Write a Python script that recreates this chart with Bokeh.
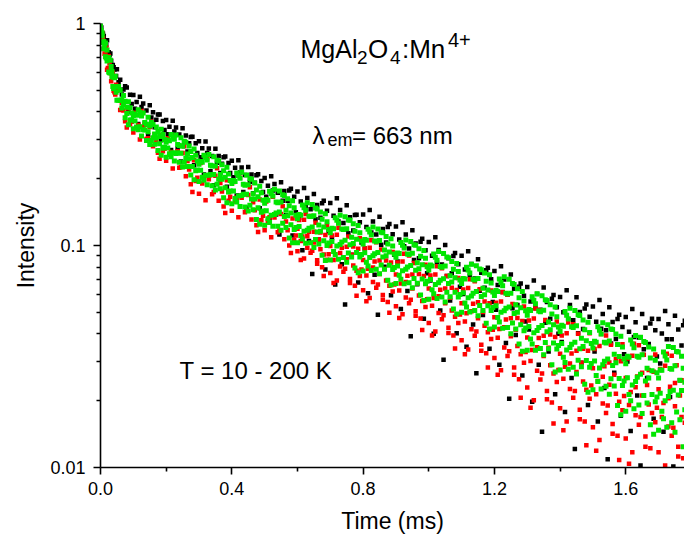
from bokeh.plotting import figure
from bokeh.models import Range1d, FixedTicker, Label, CustomJSTickFormatter
from bokeh.embed import file_html
from bokeh.resources import INLINE

# ---------------- data ----------------
# sampling times (ms): grid A and grid B (half-step shifted), plus early times
t_a = [0.00, 0.01, 0.02, 0.03, 0.04, 0.05, 0.06, 0.07, 0.08, 0.09,
       0.10, 0.11, 0.12, 0.13, 0.14, 0.15, 0.16, 0.17, 0.18, 0.19,
       0.20, 0.21, 0.22, 0.23, 0.24, 0.25, 0.26, 0.27, 0.28, 0.29,
       0.30, 0.31, 0.32, 0.33, 0.34, 0.35, 0.36, 0.37, 0.38, 0.39,
       0.40, 0.41, 0.42, 0.43, 0.44, 0.45, 0.46, 0.47, 0.48, 0.49,
       0.50, 0.51, 0.52, 0.53, 0.54, 0.55, 0.56, 0.57, 0.58, 0.59,
       0.60, 0.61, 0.62, 0.63, 0.64, 0.65, 0.66, 0.67, 0.68, 0.69,
       0.70, 0.71, 0.72, 0.73, 0.74, 0.75, 0.76, 0.77, 0.78, 0.79,
       0.80, 0.81, 0.82, 0.83, 0.84, 0.85, 0.86, 0.87, 0.88, 0.89,
       0.90, 0.91, 0.92, 0.93, 0.94, 0.95, 0.96, 0.97, 0.98, 0.99,
       1.00, 1.01, 1.02, 1.03, 1.04, 1.05, 1.06, 1.07, 1.08, 1.09,
       1.10, 1.11, 1.12, 1.13, 1.14, 1.15, 1.16, 1.17, 1.18, 1.19,
       1.20, 1.21, 1.22, 1.23, 1.24, 1.25, 1.26, 1.27, 1.28, 1.29,
       1.30, 1.31, 1.32, 1.33, 1.34, 1.35, 1.36, 1.37, 1.38, 1.39,
       1.40, 1.41, 1.42, 1.43, 1.44, 1.45, 1.46, 1.47, 1.48, 1.49,
       1.50, 1.51, 1.52, 1.53, 1.54, 1.55, 1.56, 1.57, 1.58, 1.59,
       1.60, 1.61, 1.62, 1.63, 1.64, 1.65, 1.66, 1.67, 1.68, 1.69,
       1.70, 1.71, 1.72, 1.73, 1.74, 1.75, 1.76, 1.77, 1.78]
t_b = [0.005, 0.015, 0.025, 0.035, 0.045, 0.055, 0.065, 0.075, 0.085, 0.095,
       0.105, 0.115, 0.125, 0.135, 0.145, 0.155, 0.165, 0.175, 0.185, 0.195,
       0.205, 0.215, 0.225, 0.235, 0.245, 0.255, 0.265, 0.275, 0.285, 0.295,
       0.305, 0.315, 0.325, 0.335, 0.345, 0.355, 0.365, 0.375, 0.385, 0.395,
       0.405, 0.415, 0.425, 0.435, 0.445, 0.455, 0.465, 0.475, 0.485, 0.495,
       0.505, 0.515, 0.525, 0.535, 0.545, 0.555, 0.565, 0.575, 0.585, 0.595,
       0.605, 0.615, 0.625, 0.635, 0.645, 0.655, 0.665, 0.675, 0.685, 0.695,
       0.705, 0.715, 0.725, 0.735, 0.745, 0.755, 0.765, 0.775, 0.785, 0.795,
       0.805, 0.815, 0.825, 0.835, 0.845, 0.855, 0.865, 0.875, 0.885, 0.895,
       0.905, 0.915, 0.925, 0.935, 0.945, 0.955, 0.965, 0.975, 0.985, 0.995,
       1.005, 1.015, 1.025, 1.035, 1.045, 1.055, 1.065, 1.075, 1.085, 1.095,
       1.105, 1.115, 1.125, 1.135, 1.145, 1.155, 1.165, 1.175, 1.185, 1.195,
       1.205, 1.215, 1.225, 1.235, 1.245, 1.255, 1.265, 1.275, 1.285, 1.295,
       1.305, 1.315, 1.325, 1.335, 1.345, 1.355, 1.365, 1.375, 1.385, 1.395,
       1.405, 1.415, 1.425, 1.435, 1.445, 1.455, 1.465, 1.475, 1.485, 1.495,
       1.505, 1.515, 1.525, 1.535, 1.545, 1.555, 1.565, 1.575, 1.585, 1.595,
       1.605, 1.615, 1.625, 1.635, 1.645, 1.655, 1.665, 1.675, 1.685, 1.695,
       1.705, 1.715, 1.725, 1.735, 1.745, 1.755, 1.765, 1.775]
t_early = [0.0025, 0.0075, 0.0125, 0.0175, 0.0225, 0.0275, 0.0325, 0.0375, 0.0425, 0.0475]
t_late = t_a[60:]   # 0.60 ... 1.78 ms, used by the third red reading

# black series
black_a = [0.995, 0.878, 0.840, 0.732, 0.636, 0.622, 0.558, 0.504, 0.515, 0.477,
           0.476, 0.443, 0.468, 0.436, 0.4055, 0.4285, 0.398, 0.3684, 0.3895, 0.364,
           0.368, 0.343, 0.365, 0.340, 0.316, 0.337, 0.313, 0.289, 0.309, 0.289,
           0.2945, 0.274, 0.294, 0.2734, 0.2533, 0.2726, 0.2528, 0.2334, 0.2517, 0.2354,
           0.241, 0.2239, 0.242, 0.2247, 0.2076, 0.2256, 0.2086, 0.1917, 0.2094, 0.1952,
           0.2015, 0.1859, 0.205, 0.1891, 0.1727, 0.1929, 0.1762, 0.1591, 0.1803, 0.1658,
           0.175, 0.1578, 0.1814, 0.1638, 0.1458, 0.1706, 0.1522, 0.1332, 0.1592, 0.1434,
           0.1553, 0.1363, 0.1632, 0.1445, 0.1262, 0.152, 0.1341, 0.1167, 0.1376, 0.1273,
           0.1379, 0.1213, 0.1446, 0.1282, 0.1121, 0.1347, 0.1188, 0.1032, 0.1251, 0.1125,
           0.1219, 0.1065, 0.1272, 0.112, 0.0969, 0.1171, 0.1022, 0.0876, 0.1073, 0.0953,
           0.1036, 0.0898, 0.109, 0.0954, 0.0822, 0.1006, 0.0876, 0.075, 0.0926, 0.0824,
           0.0898, 0.0779, 0.0942, 0.0825, 0.071, 0.0867, 0.0754, 0.0645, 0.0794, 0.0705,
           0.0768, 0.0664, 0.0806, 0.0703, 0.0601, 0.074, 0.0639, 0.0539, 0.0675, 0.0594,
           0.065, 0.056, 0.0696, 0.0604, 0.0513, 0.0647, 0.0557, 0.0468, 0.0599, 0.0527,
           0.0586, 0.05, 0.0628, 0.054, 0.046, 0.0584, 0.0502, 0.0421, 0.0542, 0.0477,
           0.0531, 0.0453, 0.0568, 0.0491, 0.0415, 0.0527, 0.0452, 0.0379, 0.0487, 0.0429,
           0.0476, 0.0409, 0.0518, 0.0451, 0.0385, 0.0492, 0.0426, 0.036, 0.0468, 0.0415,
           0.0466, 0.0401, 0.0507, 0.0442, 0.0378, 0.0482, 0.0418, 0.0354, 0.0458]
black_b = [0.905, 0.727, 0.743, 0.596, 0.494, 0.544, 0.479, 0.522, 0.400, 0.434,
           0.413, 0.353, 0.421, 0.356, 0.314, 0.377, 0.341, 0.389, 0.298, 0.331,
           0.317, 0.269, 0.326, 0.274, 0.239, 0.294, 0.265, 0.308, 0.230, 0.261,
           0.250, 0.209, 0.261, 0.216, 0.187, 0.236, 0.212, 0.250, 0.184, 0.212,
           0.203, 0.168, 0.213, 0.174, 0.148, 0.193, 0.172, 0.207, 0.147, 0.174,
           0.166, 0.132, 0.177, 0.138, 0.112, 0.159, 0.137, 0.177, 0.111, 0.141,
           0.1335, 0.0953, 0.1495, 0.1048, 0.0744, 0.1314, 0.1064, 0.155, 0.078, 0.1158,
           0.108, 0.0668, 0.1282, 0.0823, 0.0542, 0.1135, 0.0908, 0.1372, 0.0682, 0.1032,
           0.0969, 0.061, 0.1144, 0.0738, 0.0488, 0.1007, 0.0803, 0.121, 0.0597, 0.0908,
           0.0847, 0.0517, 0.0993, 0.0623, 0.039, 0.086, 0.0669, 0.1041, 0.0468, 0.075,
           0.0695, 0.040, 0.0838, 0.051, 0.0306, 0.0729, 0.0565, 0.0897, 0.0402, 0.0652,
           0.0604, 0.035, 0.073, 0.0441, 0.0266, 0.0625, 0.0486, 0.0773, 0.0343, 0.0557,
           0.0513, 0.029, 0.0617, 0.0364, 0.0204, 0.0522, 0.0395, 0.0652, 0.026, 0.0455,
           0.0418, 0.0198, 0.0522, 0.029, 0.0145, 0.0449, 0.0333, 0.0576, 0.0214, 0.040,
           0.0368, 0.0178, 0.0467, 0.0253, 0.0121, 0.0402, 0.0296, 0.052, 0.0191, 0.0362,
           0.0333, 0.0161, 0.0422, 0.0228, 0.0109, 0.0362, 0.0267, 0.0467, 0.0171, 0.0324,
           0.030, 0.0146, 0.0387, 0.0211, 0.0102, 0.0341, 0.0253, 0.0445, 0.0166, 0.0316,
           0.0294, 0.0145, 0.0378, 0.0208, 0.0101, 0.0333, 0.0247, 0.0437]
black_early = [0.96, 0.90, 0.84, 0.80, 0.74, 0.72, 0.68, 0.65, 0.62, 0.58]

# red series
red_a = [0.937, 0.768, 0.619, 0.598, 0.498, 0.498, 0.408, 0.406, 0.340, 0.353,
         0.323, 0.340, 0.300, 0.342, 0.302, 0.342, 0.280, 0.295, 0.246, 0.266,
         0.241, 0.256, 0.222, 0.259, 0.224, 0.261, 0.205, 0.220, 0.174, 0.195,
         0.171, 0.190, 0.160, 0.199, 0.170, 0.206, 0.159, 0.175, 0.140, 0.159,
         0.1435, 0.158, 0.134, 0.164, 0.141, 0.169, 0.131, 0.144, 0.115, 0.130,
         0.117, 0.1286, 0.109, 0.1338, 0.1146, 0.1386, 0.1066, 0.1172, 0.0924, 0.1059,
         0.0942, 0.1047, 0.0873, 0.1101, 0.0927, 0.1154, 0.0858, 0.0962, 0.0728, 0.0862,
         0.0751, 0.0860, 0.0696, 0.0924, 0.0762, 0.0987, 0.0707, 0.0812, 0.0594, 0.0728,
         0.0628, 0.0733, 0.0580, 0.0796, 0.0645, 0.0855, 0.0598, 0.0695, 0.0498, 0.0621,
         0.0532, 0.0627, 0.0490, 0.0685, 0.0549, 0.0740, 0.0506, 0.0596, 0.0416, 0.0529,
         0.0448, 0.0536, 0.0410, 0.0590, 0.0465, 0.0641, 0.0426, 0.0509, 0.0344, 0.0448,
         0.0374, 0.0455, 0.0340, 0.0506, 0.0392, 0.0555, 0.0357, 0.0435, 0.0282, 0.0379,
         0.0311, 0.0384, 0.0274, 0.0428, 0.0318, 0.0470, 0.0282, 0.0353, 0.0206, 0.0296,
         0.0229, 0.0302, 0.0201, 0.0348, 0.0249, 0.0392, 0.0221, 0.0289, 0.0158, 0.0243,
         0.0185, 0.0251, 0.0161, 0.0294, 0.0206, 0.0336, 0.0182, 0.0244, 0.0126, 0.0204,
         0.0152, 0.0214, 0.0133, 0.0256, 0.0176, 0.0297, 0.0157, 0.0215, 0.0108, 0.0181,
         0.0135, 0.0191, 0.0117, 0.0230, 0.0156, 0.0267, 0.0138, 0.0192, 0.0093, 0.0160,
         0.0117, 0.0169, 0.0102, 0.0205, 0.0139, 0.0240, 0.0124, 0.0169, 0.0085]
red_b = [0.906, 0.731, 0.714, 0.580, 0.479, 0.505, 0.438, 0.363, 0.415, 0.361,
         0.396, 0.349, 0.403, 0.350, 0.304, 0.361, 0.317, 0.262, 0.315, 0.273,
         0.304, 0.264, 0.312, 0.266, 0.226, 0.280, 0.240, 0.189, 0.242, 0.202,
         0.235, 0.199, 0.247, 0.207, 0.174, 0.223, 0.191, 0.150, 0.197, 0.166,
         0.193, 0.164, 0.202, 0.170, 0.1435, 0.183, 0.1565, 0.1234, 0.161, 0.136,
         0.1577, 0.1342, 0.1657, 0.1393, 0.1167, 0.1504, 0.1281, 0.0999, 0.1324, 0.1109,
         0.1304, 0.1099, 0.1388, 0.1152, 0.0948, 0.1267, 0.1063, 0.0798, 0.1116, 0.0913,
         0.1110, 0.0914, 0.1203, 0.0978, 0.0785, 0.1099, 0.0908, 0.0659, 0.0968, 0.0780,
         0.0970, 0.0785, 0.1056, 0.0846, 0.0668, 0.0959, 0.0783, 0.0557, 0.0838, 0.0668,
         0.0839, 0.0674, 0.0919, 0.0730, 0.0570, 0.0834, 0.0675, 0.0469, 0.0728, 0.0573,
         0.0732, 0.0580, 0.0806, 0.0632, 0.0485, 0.0728, 0.0582, 0.0393, 0.0631, 0.0489,
         0.0634, 0.0495, 0.0705, 0.0546, 0.0410, 0.0636, 0.0502, 0.0327, 0.0549, 0.0417,
         0.0552, 0.0421, 0.0615, 0.0464, 0.0334, 0.0545, 0.0417, 0.0250, 0.0457, 0.0331,
         0.0459, 0.0338, 0.0520, 0.0383, 0.0265, 0.0462, 0.0346, 0.0196, 0.0387, 0.0275,
         0.0393, 0.0284, 0.0450, 0.0326, 0.0221, 0.0400, 0.0296, 0.0161, 0.0336, 0.0234,
         0.0342, 0.0245, 0.0399, 0.0286, 0.0190, 0.0357, 0.0262, 0.0139, 0.0301, 0.0210,
         0.0310, 0.0219, 0.0361, 0.0257, 0.0169, 0.0322, 0.0235, 0.0122, 0.0270, 0.0186,
         0.0278, 0.0195, 0.0325, 0.0231, 0.0151, 0.0289, 0.0211, 0.0110]
red_c = [0.119, 0.0861, 0.1305, 0.0977, 0.1358, 0.1031, 0.0827, 0.1145, 0.0912, 0.1228,
         0.0995, 0.0678, 0.1119, 0.0804, 0.118, 0.0868, 0.0677, 0.0989, 0.077, 0.1078,
         0.086, 0.0561, 0.0978, 0.0684, 0.1034, 0.0745, 0.057, 0.0857, 0.0658, 0.0936,
         0.074, 0.0472, 0.0848, 0.0583, 0.0902, 0.064, 0.0482, 0.0744, 0.0562, 0.0819,
         0.064, 0.0393, 0.074, 0.0496, 0.079, 0.0549, 0.0404, 0.0645, 0.0478, 0.0714,
         0.055, 0.0324, 0.0644, 0.042, 0.0691, 0.047, 0.0336, 0.0560, 0.0407, 0.0627,
         0.0475, 0.0262, 0.0559, 0.0347, 0.060, 0.039, 0.0262, 0.0471, 0.0324, 0.0531,
         0.0385, 0.0186, 0.0469, 0.0273, 0.0511, 0.0318, 0.0203, 0.0397, 0.0265, 0.0455,
         0.0325, 0.0147, 0.0402, 0.0226, 0.0442, 0.0269, 0.0165, 0.0343, 0.0224, 0.0402,
         0.028, 0.0119, 0.0353, 0.0194, 0.0393, 0.0236, 0.0142, 0.0307, 0.0198, 0.0359,
         0.0253, 0.0104, 0.0319, 0.0172, 0.0355, 0.0211, 0.0124, 0.0275, 0.0176, 0.0323,
         0.0225, 0.0089, 0.0287, 0.0153, 0.0319, 0.0189, 0.0112, 0.0247, 0.0159]
red_early = [0.90, 0.86, 0.73, 0.78, 0.63, 0.66, 0.55, 0.60, 0.49, 0.53]

# green series
green_a = [0.975, 0.77, 0.76, 0.60, 0.575, 0.451, 0.50, 0.43, 0.393, 0.417,
           0.385, 0.342, 0.398, 0.332, 0.352, 0.285, 0.351, 0.305, 0.287, 0.316,
           0.292, 0.259, 0.308, 0.260, 0.282, 0.226, 0.292, 0.246, 0.227, 0.255,
           0.232, 0.203, 0.249, 0.207, 0.228, 0.178, 0.240, 0.199, 0.182, 0.210,
           0.190, 0.163, 0.206, 0.168, 0.187, 0.143, 0.199, 0.162, 0.148, 0.173,
           0.155, 0.132, 0.171, 0.138, 0.156, 0.117, 0.168, 0.136, 0.124, 0.148,
           0.132, 0.111, 0.148, 0.117, 0.135, 0.098, 0.146, 0.116, 0.105, 0.128,
           0.114, 0.094, 0.130, 0.101, 0.118, 0.084, 0.130, 0.102, 0.093, 0.114,
           0.1015, 0.084, 0.115, 0.090, 0.104, 0.0746, 0.114, 0.090, 0.0814, 0.0994,
           0.0885, 0.0734, 0.1003, 0.0782, 0.0910, 0.0646, 0.1002, 0.0785, 0.0706, 0.0876,
           0.0775, 0.0632, 0.0886, 0.0680, 0.0799, 0.0557, 0.0881, 0.0685, 0.0615, 0.0764,
           0.0675, 0.0551, 0.0775, 0.0593, 0.0700, 0.0483, 0.0778, 0.0600, 0.0536, 0.0677,
           0.0595, 0.0474, 0.0682, 0.0508, 0.0604, 0.0400, 0.0667, 0.0501, 0.0439, 0.0563,
           0.0485, 0.0379, 0.0567, 0.0414, 0.0503, 0.0322, 0.0565, 0.0417, 0.0364, 0.0478,
           0.0410, 0.0314, 0.0485, 0.0347, 0.0427, 0.0264, 0.0484, 0.0351, 0.0303, 0.0406,
           0.0345, 0.0260, 0.0415, 0.0290, 0.0364, 0.0214, 0.0418, 0.0296, 0.0252, 0.0349,
           0.0293, 0.0213, 0.0360, 0.0244, 0.0314, 0.0175, 0.0366, 0.0253, 0.0213, 0.0304,
           0.0253, 0.0179, 0.0318, 0.0209, 0.0277, 0.0144, 0.0331, 0.0222, 0.0182]
green_b = [0.906, 0.708, 0.703, 0.574, 0.579, 0.451, 0.453, 0.376, 0.444, 0.368,
           0.391, 0.332, 0.383, 0.331, 0.378, 0.297, 0.318, 0.268, 0.334, 0.277,
           0.299, 0.251, 0.301, 0.262, 0.306, 0.237, 0.258, 0.208, 0.272, 0.219,
           0.239, 0.197, 0.243, 0.209, 0.251, 0.189, 0.209, 0.164, 0.225, 0.176,
           0.196, 0.157, 0.201, 0.170, 0.208, 0.152, 0.171, 0.131, 0.185, 0.143,
           0.161, 0.127, 0.167, 0.140, 0.176, 0.126, 0.144, 0.108, 0.159, 0.1205,
           0.138, 0.107, 0.144, 0.1196, 0.153, 0.1064, 0.1237, 0.0904, 0.139, 0.1025,
           0.1196, 0.0908, 0.1260, 0.1037, 0.1349, 0.0926, 0.1088, 0.0791, 0.1230, 0.0911,
           0.1063, 0.0808, 0.1115, 0.0917, 0.1187, 0.0817, 0.0955, 0.0697, 0.1073, 0.0797,
           0.0926, 0.0705, 0.0974, 0.0800, 0.1043, 0.0710, 0.0836, 0.0598, 0.0950, 0.0690,
           0.0816, 0.0606, 0.0859, 0.0698, 0.0921, 0.0616, 0.0731, 0.0518, 0.0830, 0.0602,
           0.0710, 0.0528, 0.0752, 0.0609, 0.0811, 0.0537, 0.0642, 0.0447, 0.0738, 0.0525,
           0.0627, 0.0452, 0.0658, 0.0521, 0.0704, 0.0448, 0.0541, 0.0360, 0.0620, 0.0425,
           0.0515, 0.0360, 0.0547, 0.0427, 0.0594, 0.0366, 0.0452, 0.0290, 0.0528, 0.0354,
           0.0437, 0.0297, 0.0467, 0.0359, 0.0510, 0.0304, 0.0382, 0.0237, 0.0451, 0.0294,
           0.0370, 0.0244, 0.0399, 0.0301, 0.0440, 0.0251, 0.0324, 0.0190, 0.0390, 0.0245,
           0.0317, 0.0200, 0.0346, 0.0255, 0.0386, 0.0211, 0.0280, 0.0156, 0.0342, 0.0208,
           0.0275, 0.0166, 0.0305, 0.0220, 0.0347, 0.0178, 0.0247, 0.0124]
green_c = [0.953, 0.83, 0.678, 0.683, 0.51, 0.517, 0.45, 0.474, 0.42, 0.368,
           0.336, 0.386, 0.343, 0.395, 0.297, 0.345, 0.306, 0.342, 0.31, 0.274,
           0.25, 0.296, 0.262, 0.315, 0.237, 0.28, 0.248, 0.281, 0.249, 0.217,
           0.194, 0.237, 0.207, 0.257, 0.186, 0.228, 0.199, 0.231, 0.203, 0.174,
           0.154, 0.194, 0.167, 0.214, 0.149, 0.188, 0.162, 0.191, 0.166, 0.141,
           0.1235, 0.16, 0.137, 0.179, 0.122, 0.157, 0.135, 0.1625, 0.140, 0.118,
           0.103, 0.137, 0.116, 0.156, 0.103, 0.136, 0.115, 0.1415, 0.121, 0.100,
           0.086, 0.119, 0.0994, 0.137, 0.0883, 0.119, 0.1007, 0.1252, 0.1068, 0.0888,
           0.0768, 0.1056, 0.0882, 0.1213, 0.0782, 0.1052, 0.0887, 0.1097, 0.0936, 0.0779,
           0.0674, 0.0921, 0.077, 0.106, 0.0679, 0.0922, 0.0773, 0.0968, 0.082, 0.0673,
           0.0573, 0.0809, 0.0667, 0.0939, 0.0586, 0.0809, 0.0674, 0.0848, 0.0715, 0.0586,
           0.050, 0.0706, 0.0582, 0.0824, 0.0509, 0.0711, 0.0589, 0.0751, 0.063, 0.051,
           0.0429, 0.0621, 0.0501, 0.0723, 0.0427, 0.061, 0.0494, 0.0638, 0.0524, 0.0413,
           0.0337, 0.051, 0.0405, 0.0607, 0.0344, 0.0511, 0.0409, 0.0541, 0.0440, 0.0342,
           0.0275, 0.0433, 0.0338, 0.0521, 0.0283, 0.0435, 0.0343, 0.0462, 0.0372, 0.0283,
           0.0224, 0.0367, 0.0281, 0.0449, 0.0232, 0.0371, 0.0288, 0.0399, 0.0316, 0.0234,
           0.0179, 0.0314, 0.0235, 0.0393, 0.0191, 0.0322, 0.0245, 0.0349, 0.0273, 0.0198,
           0.0147, 0.0274, 0.0200, 0.0351, 0.0159, 0.0287, 0.0212, 0.0317, 0.0242]
green_d = [0.879, 0.817, 0.605, 0.608, 0.519, 0.52, 0.416, 0.447, 0.35, 0.3955,
           0.3635, 0.4085, 0.311, 0.358, 0.325, 0.3585, 0.286, 0.326, 0.255, 0.300,
           0.275, 0.316, 0.240, 0.285, 0.2605, 0.295, 0.227, 0.265, 0.198, 0.240,
           0.218, 0.255, 0.188, 0.230, 0.209, 0.242, 0.180, 0.217, 0.156, 0.196,
           0.176, 0.212, 0.150, 0.189, 0.170, 0.200, 0.145, 0.178, 0.1245, 0.160,
           0.1435, 0.1757, 0.122, 0.157, 0.1416, 0.1693, 0.1204, 0.1512, 0.103, 0.1368,
           0.1218, 0.1523, 0.1024, 0.1356, 0.1211, 0.1477, 0.1016, 0.1312, 0.0856, 0.118,
           0.1042, 0.1335, 0.0868, 0.1186, 0.1055, 0.1304, 0.0887, 0.116, 0.0754, 0.1049,
           0.0927, 0.1183, 0.0771, 0.1048, 0.0931, 0.1146, 0.0781, 0.1015, 0.0664, 0.0915,
           0.0809, 0.1032, 0.0672, 0.0916, 0.0812, 0.1008, 0.0676, 0.0894, 0.0565, 0.0803,
           0.0703, 0.0915, 0.0577, 0.0805, 0.0709, 0.0887, 0.0587, 0.0782, 0.0491, 0.0700,
           0.0613, 0.0799, 0.0502, 0.0705, 0.0620, 0.0783, 0.0510, 0.0691, 0.0421, 0.0618,
           0.0535, 0.0706, 0.0424, 0.0610, 0.0528, 0.0674, 0.0421, 0.0581, 0.0334, 0.0508,
           0.0432, 0.0588, 0.0337, 0.0507, 0.0436, 0.0570, 0.0343, 0.0491, 0.0269, 0.0429,
           0.0362, 0.0504, 0.0277, 0.0431, 0.0367, 0.0488, 0.0284, 0.0417, 0.0218, 0.0362,
           0.0302, 0.0431, 0.0226, 0.0367, 0.0308, 0.0421, 0.0233, 0.0358, 0.0173, 0.0308,
           0.0254, 0.0375, 0.0184, 0.0317, 0.0263, 0.0369, 0.0195, 0.0311, 0.0141, 0.0267,
           0.0216, 0.0331, 0.0152, 0.0279, 0.0223, 0.0333, 0.0164, 0.0280]
green_early = [0.93, 0.82, 0.80, 0.70, 0.70, 0.60, 0.64, 0.52, 0.57, 0.49]

x_ticks = [0.0, 0.4, 0.8, 1.2, 1.6]
x_minor = [0.2, 0.6, 1.0, 1.4]
y_ticks = [0.01, 0.1, 1]
y_minor = [0.02, 0.03, 0.04, 0.05, 0.06, 0.07, 0.08, 0.09,
           0.2, 0.3, 0.4, 0.5, 0.6, 0.7, 0.8, 0.9]

FONT = "Liberation Sans"
BLACK, RED, GREEN = "#000000", "#ff0000", "#00e600"

p = figure(width=684, height=537, output_backend="svg", toolbar_location=None,
           y_axis_type="log", x_range=Range1d(0, 1.779), y_range=Range1d(0.01, 1),
           min_border_left=100, min_border_right=0, min_border_top=23, min_border_bottom=70)
p.outline_line_color = None
p.xgrid.grid_line_color = None
p.ygrid.grid_line_color = None
p.background_fill_color = "white"
p.border_fill_color = "white"


def pts(xs, ys, color, size):
    n = min(len(xs), len(ys))
    p.scatter(x=xs[:n], y=ys[:n], marker="square", size=size,
              fill_color=color, line_color=None)


pts(t_b, black_b, BLACK, 4.5)
pts(t_a, black_a, BLACK, 4.5)
pts(t_early, black_early, BLACK, 4.5)
pts(t_b, red_b, RED, 4.5)
pts(t_a, red_a, RED, 4.5)
pts(t_late, red_c, RED, 4.5)
pts(t_early, red_early, RED, 4.5)
pts(t_a, green_a, GREEN, 5)
pts(t_b, green_b, GREEN, 5)
pts(t_a, green_c, GREEN, 5)
pts(t_b, green_d, GREEN, 5)
pts(t_early, green_early, GREEN, 5)

p.xaxis.ticker = FixedTicker(ticks=x_ticks, minor_ticks=x_minor)
p.yaxis.ticker = FixedTicker(ticks=y_ticks, minor_ticks=y_minor)
p.xaxis.formatter = CustomJSTickFormatter(code="return tick.toFixed(1);")
p.yaxis.formatter = CustomJSTickFormatter(code="return String(tick);")
p.xaxis.axis_label = "Time (ms)"
p.yaxis.axis_label = "Intensity"

for ax in (p.xaxis[0], p.yaxis[0]):
    ax.axis_line_width = 1.6
    ax.axis_line_color = "black"
    ax.major_tick_line_width = 1.6
    ax.minor_tick_line_width = 1.6
    ax.major_tick_line_color = "black"
    ax.minor_tick_line_color = "black"
    ax.major_tick_in = 0
    ax.major_tick_out = 7
    ax.minor_tick_in = 0
    ax.minor_tick_out = 4
    ax.major_label_text_font = FONT
    ax.major_label_text_font_size = "18px"
    ax.major_label_text_color = "black"
    ax.axis_label_text_font = FONT
    ax.axis_label_text_font_size = "23px"
    ax.axis_label_text_font_style = "normal"
    ax.axis_label_text_color = "black"

p.xaxis.major_label_standoff = 7
p.yaxis.major_label_standoff = 8
p.xaxis.axis_label_standoff = 10
p.yaxis.axis_label_standoff = 8

# annotation placement: reference pixel position -> data position
FRAME_LEFT, FRAME_TOP, PX_PER_MS, PX_PER_DECADE = 100.0, 23.0, 328.3, 222.0


def at(px, py):
    return (px - FRAME_LEFT) / PX_PER_MS, 10 ** (-(py - FRAME_TOP) / PX_PER_DECADE)


def put(text, px, py, size):
    x, y = at(px, py)
    p.add_layout(Label(x=x, y=y, text=text, text_font=FONT, text_font_size=size,
                       text_color="black", text_align="left",
                       text_baseline="alphabetic"))


# MgAl2O4:Mn4+
put("MgAl", 300.0, 48.0, "25px")
put("2", 356.5, 56.5, "19px")
put("O", 367.5, 48.0, "26px")
put("4", 389.5, 56.5, "19px")
put(":Mn", 401.5, 48.0, "26px")
put("4+", 447.5, 39.5, "20px")
# lambda_em = 663 nm
put("\u03bb", 312.0, 135.0, "24px")
put("em", 327.0, 139.0, "18px")
put("= 663 nm", 351.5, 135.0, "24px")
# T = 10 - 200 K
put("T = 10 - 200 K", 179.0, 370.0, "24px")

open("out.html", "w").write(file_html(p, INLINE))
